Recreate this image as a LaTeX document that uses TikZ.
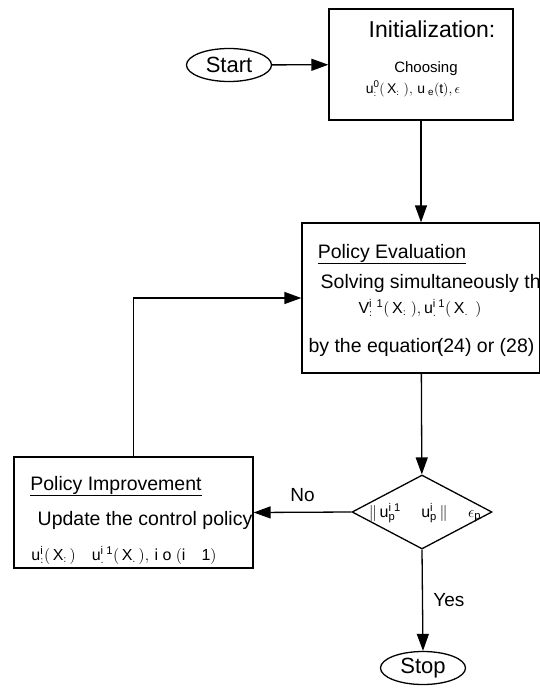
\documentclass[tikz,border=0pt]{standalone}
\usepackage{fix-cm}
\usepackage{fontspec}
\setmainfont{Liberation Sans}
\usetikzlibrary{shapes.geometric,arrows.meta}

\begin{document}
\begin{tikzpicture}[x=1pt,y=-1pt,line width=1.3pt,
    box/.style={draw,rectangle,inner sep=0pt},
    term/.style={draw,ellipse,inner sep=0pt,minimum width=85pt,minimum height=33pt,
      font=\fontsize{22}{24}\selectfont},
    txt/.style={inner sep=0pt,anchor=base},
    flow/.style={-{Triangle[length=17pt,width=12pt]}}]
  \useasboundingbox (0,0) rectangle (540,688);
  % blocks
  \node[term] (start) at (229,65) {Start};
  \node[box,minimum width=184pt,minimum height=111pt] (init) at (421,64.5) {};
  \node[box,minimum width=238pt,minimum height=150pt] (eval) at (421,298) {};
  \node[draw,diamond,inner sep=0pt,minimum width=140pt,minimum height=74pt] (dec) at (422,512) {};
  \node[box,minimum width=239pt,minimum height=111pt] (impr) at (133.5,512.5) {};
  \node[term] (stop) at (423,668) {Stop};
  % texts
  \node[txt,font=\fontsize{23}{25}\selectfont] (inittitle) at (432,37) {Initialization:};
  \node[txt,font=\fontsize{15}{17}\selectfont] (choose) at (426,72) {Choosing};
  \node[txt,font=\fontsize{14}{16}\selectfont] (initmath) at (413,93)
    {$\mathrm{u}^{\mathrm{0}}_{:}(\,\mathrm{X}_{:}\;),\,\mathrm{u}_{\;\mathrm{e}}(\mathrm{t}),\epsilon$};
  \node[txt,font=\fontsize{19.5}{22}\selectfont] (evaltitle) at (392,258) {\underline{Policy Evaluation}};
  \node[txt,anchor=base west,font=\fontsize{19.5}{22}\selectfont] (solve) at (320,288) {Solving simultaneously th};
  \node[txt,font=\fontsize{16}{18}\selectfont] (evalmath) at (420,313)
    {$\mathrm{V}^{\mathrm{i}\;\,\mathrm{1}}_{:}(\,\mathrm{X}_{:}\;),\mathrm{u}^{\mathrm{i}\;\mathrm{1}}_{.}(\,\mathrm{X}_{.}\;\,)$};
  \node[txt,font=\fontsize{19.5}{22}\selectfont] (byeq) at (421.5,352) {by the equation\kern-5pt(24) or (28)};
  \node[txt,font=\fontsize{19.5}{22}\selectfont] (imprtitle) at (116,490) {\underline{Policy Improvement}};
  \node[txt,font=\fontsize{19.5}{22}\selectfont] (update) at (145,525) {Update the control policy};
  \node[txt,font=\fontsize{16}{18}\selectfont] (imprmath) at (124,560)
    {$\mathrm{u}^{\mathrm{i}}_{:}(\,\mathrm{X}_{:}\,)\quad\mathrm{u}^{\mathrm{i}\;\mathrm{1}}_{.}(\,\mathrm{X}_{.}\,),\,\mathrm{i}\;\mathrm{o}\;(\mathrm{i}\quad\mathrm{1})$};
  \node[txt,font=\fontsize{16}{18}\selectfont] (decmath) at (425,517)
    {$\|\,\mathrm{u}^{\mathrm{i}\;\mathrm{1}}_{\mathrm{p}}\quad\;\mathrm{u}^{\mathrm{i}}_{\mathrm{p}}\,\|\quad\;\epsilon_{\mathrm{p}}$};
  % connectors
  \draw[flow] (start) -- (init);
  \draw[flow] (init) -- (eval);
  \draw[flow] (eval) -- (dec);
  \draw[flow] (dec.west) -- (impr.east) node[midway,above=7pt,font=\fontsize{19}{21}\selectfont] (no) {No};
  \draw[flow] (dec.south) -- (stop.north) node[midway,right=7pt,font=\fontsize{19}{21}\selectfont] (yes) {Yes};
  \draw[flow] (impr.north) |- (eval.west);
\end{tikzpicture}
\end{document}
